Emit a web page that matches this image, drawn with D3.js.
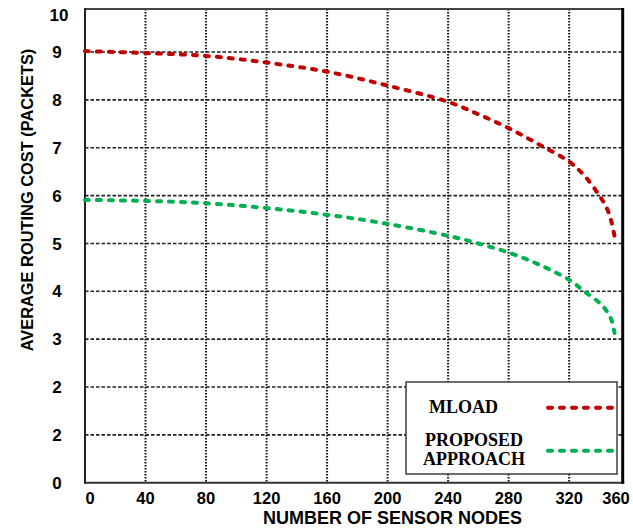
<!DOCTYPE html>
<html>
<head>
<meta charset="utf-8">
<script src="https://cdn.jsdelivr.net/npm/d3@7"></script>
<style>
  body { margin: 0; background: #fff; }
  svg { display: block; }
</style>
</head>
<body>
<script>
// values
const nodes    = [0, 40, 80, 120, 160, 200, 240, 260, 280, 300, 320, 330, 340, 345, 348, 350];
const mload    = [9.02, 8.98, 8.92, 8.78, 8.59, 8.30, 7.96, 7.70, 7.41, 7.07, 6.71, 6.42, 6.00, 5.73, 5.45, 5.15];
const proposed = [5.91, 5.89, 5.84, 5.74, 5.60, 5.41, 5.16, 5.00, 4.81, 4.56, 4.24, 4.00, 3.76, 3.58, 3.40, 3.13];
const xTicks = [0, 40, 80, 120, 160, 200, 240, 280, 320, 360];
const yTicks = [0, 1, 2, 3, 4, 5, 6, 7, 8, 9, 10];
const yTickLabels = ["0", "2", "2", "3", "4", "5", "6", "7", "8", "9", "10"];
const seriesNames = ["MLOAD", "PROPOSED APPROACH"];

const W = 633, H = 529;
const pLeft = 85, pRight = 622.7, pTop = 9, pBottom = 482.7;

const svg = d3.select("body").append("svg")
    .attr("width", W)
    .attr("height", H);

const x = d3.scaleLinear().domain([0, 355.4]).range([pLeft, pRight]);
const y = d3.scaleLinear().domain([0, 9.9]).range([pBottom, pTop]);

const sans = "'Liberation Sans', Arial, sans-serif";
const serif = "'Liberation Serif', 'Times New Roman', serif";

// horizontal grid (dashed)
svg.append("g").selectAll("line")
    .data(yTicks.filter(v => v > 0 && y(v) > pTop))
    .join("line")
    .attr("x1", pLeft).attr("x2", pRight)
    .attr("y1", d => y(d)).attr("y2", d => y(d))
    .attr("stroke", "#222")
    .attr("stroke-width", 1.6)
    .attr("stroke-dasharray", "3.5,2");

// vertical grid (dotted)
svg.append("g").selectAll("line")
    .data(xTicks.filter(v => v > 0 && x(v) < pRight))
    .join("line")
    .attr("x1", d => x(d)).attr("x2", d => x(d))
    .attr("y1", pTop).attr("y2", pBottom)
    .attr("stroke", "#111")
    .attr("stroke-width", 2)
    .attr("stroke-dasharray", "1.5,1.5");

// frame
svg.append("line").attr("x1", pLeft).attr("x2", pRight).attr("y1", pTop).attr("y2", pTop)
    .attr("stroke", "#444").attr("stroke-width", 2);
svg.append("line").attr("x1", pLeft).attr("x2", pRight + 1.5).attr("y1", pBottom).attr("y2", pBottom)
    .attr("stroke", "#333").attr("stroke-width", 2);
svg.append("line").attr("x1", pLeft).attr("x2", pLeft).attr("y1", pTop - 1).attr("y2", pBottom + 1)
    .attr("stroke", "#222").attr("stroke-width", 2);
svg.append("line").attr("x1", pRight).attr("x2", pRight).attr("y1", pTop - 1).attr("y2", pBottom + 1)
    .attr("stroke", "#000").attr("stroke-width", 3);

// curves
const line = d3.line()
    .x((d, i) => x(nodes[i]))
    .y(d => y(d))
    .curve(d3.curveCatmullRom.alpha(0.5));

const colors = ["#C00000", "#00B050"];
[mload, proposed].forEach((s, k) => {
    svg.append("path")
        .attr("d", line(s))
        .attr("fill", "none")
        .attr("stroke", colors[k])
        .attr("stroke-width", 4)
        .attr("stroke-linecap", "round")
        .attr("stroke-dasharray", "4,8");
});

// y tick labels
svg.append("g").selectAll("text")
    .data(yTicks)
    .join("text")
    .attr("x", (d, i) => i === 10 ? 59 : 57)
    .attr("y", d => Math.max(y(d), 15))
    .attr("dy", "0.36em")
    .attr("text-anchor", "middle")
    .attr("font-family", sans)
    .attr("font-weight", "bold")
    .attr("font-size", 17)
    .text((d, i) => yTickLabels[i]);

// x tick labels
svg.append("g").selectAll("text")
    .data(xTicks)
    .join("text")
    .attr("x", d => Math.min(x(d) + (d === 0 ? 5 : 0), 616))
    .attr("y", 503.5)
    .attr("text-anchor", "middle")
    .attr("font-family", sans)
    .attr("font-weight", "bold")
    .attr("font-size", 16.5)
    .text(d => d);

// axis titles
svg.append("text")
    .attr("x", 392.5)
    .attr("y", 524)
    .attr("text-anchor", "middle")
    .attr("font-family", sans)
    .attr("font-weight", "bold")
    .attr("font-size", 18)
    .text("NUMBER OF SENSOR NODES");

svg.append("text")
    .attr("transform", "translate(33,200) rotate(-90)")
    .attr("text-anchor", "middle")
    .attr("font-family", sans)
    .attr("font-weight", "bold")
    .attr("font-size", 16.4)
    .text("AVERAGE ROUTING COST (PACKETS)");

// legend
const lg = svg.append("g");
lg.append("rect")
    .attr("x", 406).attr("y", 382)
    .attr("width", 211).attr("height", 92)
    .attr("fill", "#fff")
    .attr("stroke", "#333")
    .attr("stroke-width", 1.4);

lg.append("text")
    .attr("x", 429).attr("y", 413)
    .attr("font-family", serif).attr("font-weight", "bold").attr("font-size", 18)
    .text(seriesNames[0]);
const words = seriesNames[1].split(" ");
lg.append("text")
    .attr("x", 425).attr("y", 446)
    .attr("font-family", serif).attr("font-weight", "bold").attr("font-size", 18)
    .text(words[0]);
lg.append("text")
    .attr("x", 423).attr("y", 465)
    .attr("font-family", serif).attr("font-weight", "bold").attr("font-size", 18)
    .text(words[1]);

[407.7, 450.7].forEach((ly, k) => {
    lg.append("line")
        .attr("x1", 548).attr("x2", 614)
        .attr("y1", ly).attr("y2", ly)
        .attr("stroke", colors[k])
        .attr("stroke-width", 4)
        .attr("stroke-linecap", "round")
        .attr("stroke-dasharray", "4,8");
});
</script>
</body>
</html>
